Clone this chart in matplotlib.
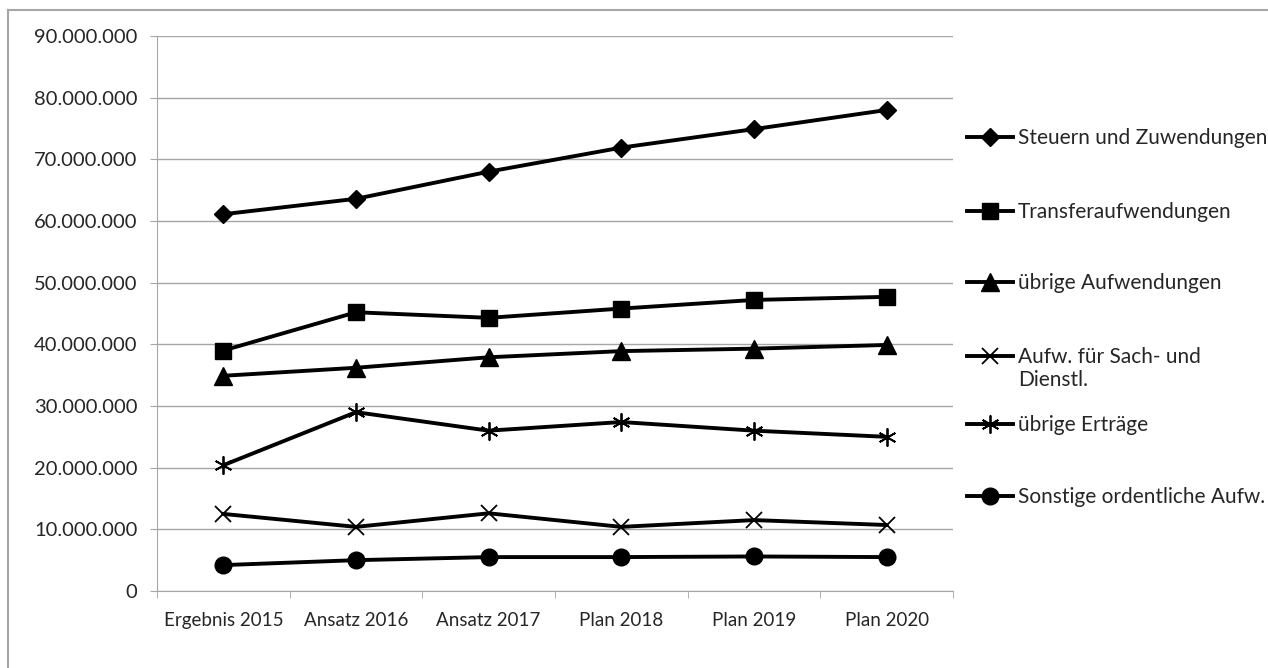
import matplotlib
matplotlib.use('Agg')
import numpy as np
from matplotlib import pyplot as plt
from matplotlib.ticker import FuncFormatter, FixedLocator
from matplotlib.lines import Line2D
from matplotlib.legend_handler import HandlerLine2D

plt.rcParams['font.family'] = ['Lato', 'DejaVu Sans']

years = ['Ergebnis 2015', 'Ansatz 2016', 'Ansatz 2017', 'Plan 2018', 'Plan 2019', 'Plan 2020']

steuern = [61.1e6, 63.6e6, 68.0e6, 71.9e6, 74.9e6, 78.0e6]
transfer = [39.0e6, 45.2e6, 44.3e6, 45.8e6, 47.2e6, 47.7e6]
uebrige_aufw = [34.9e6, 36.2e6, 37.9e6, 38.9e6, 39.3e6, 39.9e6]
sach = [12.5e6, 10.4e6, 12.6e6, 10.4e6, 11.5e6, 10.7e6]
ertraege = [20.4e6, 29.0e6, 26.0e6, 27.4e6, 26.0e6, 25.0e6]
sonstige = [4.2e6, 5.0e6, 5.5e6, 5.5e6, 5.6e6, 5.5e6]

W, H = 1268, 668
fig = plt.figure(figsize=(W / 100, H / 100), dpi=100)
ax = fig.add_axes([157 / W, 1 - 591 / H, (953 - 157) / W, (591 - 36) / H])

x = list(range(len(years)))
lw = 2.8
l1, = ax.plot(x, steuern, color='black', lw=lw, marker='D', ms=9, label='Steuern und Zuwendungen', zorder=3)
l2, = ax.plot(x, transfer, color='black', lw=lw, marker='s', ms=12, label='Transferaufwendungen', zorder=3)
l3, = ax.plot(x, uebrige_aufw, color='black', lw=lw, marker='^', ms=13, label='übrige Aufwendungen', zorder=3)
l4, = ax.plot(x, sach, color='black', lw=lw, marker='x', ms=11.5, mew=1.3, label='Aufw. für Sach- und\nDienstl.', zorder=3)
l5, = ax.plot(x, ertraege, color='black', lw=lw, marker=(6, 2, 0), ms=13, mew=1.3, label='übrige Erträge', zorder=3)
l6, = ax.plot(x, sonstige, color='black', lw=lw, marker='o', ms=12, label='Sonstige ordentliche Aufw.', zorder=3)

ax.set_xlim(-0.5, len(years) - 0.5)
ax.set_ylim(0, 90e6)
ax.set_yticks([i * 10e6 for i in range(10)])
ax.yaxis.set_major_formatter(FuncFormatter(lambda v, p: f'{int(v):,}'.replace(',', '.')))
ax.set_xticks(x)
ax.set_xticklabels(years)
ax.xaxis.set_minor_locator(FixedLocator([i - 0.5 for i in range(len(years) + 1)]))

gray = '#a6a6a6'
txt = '#262626'
ax.grid(axis='y', color=gray, lw=1)
ax.set_axisbelow(True)
for s in ['top', 'right']:
    ax.spines[s].set_visible(False)
for s in ['left', 'bottom']:
    ax.spines[s].set_color(gray)
ax.tick_params(axis='y', length=5, color=gray, pad=9, labelsize=14.5, labelcolor=txt)
ax.tick_params(axis='x', which='major', length=0, pad=15, labelsize=13.5, labelcolor=txt)
ax.tick_params(axis='x', which='minor', length=5, color=gray)


class ShiftedHandler(HandlerLine2D):
    # Linie im Legendeneintrag auf die erste Textzeile schieben
    def __init__(self, dy=0, **kw):
        super().__init__(**kw)
        self.dy = dy

    def create_artists(self, *args, **kwargs):
        arts = super().create_artists(*args, **kwargs)
        for a in arts:
            a.set_ydata(np.asarray(a.get_ydata()) + self.dy)
        return arts


# Legende: ein Eintrag je Reihe, gleichmaessig verteilt wie in Excel
entries = [(l1, 138, 0), (l2, 212, 0), (l3, 283, 0), (l4, 368.5, 9.5), (l5, 425, 0), (l6, 497, 0)]
for line, ypix, dy in entries:
    lg = ax.legend(handles=[line], loc='center left', bbox_to_anchor=(967 / W, 1 - ypix / H),
                   bbox_transform=fig.transFigure, frameon=False, fontsize=15,
                   handlelength=2.2, handletextpad=0.25, borderaxespad=0, borderpad=0,
                   handler_map={line: ShiftedHandler(dy=dy)})
    for t in lg.get_texts():
        t.set_color(txt)
    ax.add_artist(lg)
ax.legend_ = None  # sonst wird der letzte Eintrag doppelt gezeichnet

# Rahmen oben und links
fig.add_artist(Line2D([8 / W, 8 / W], [0, 1 - 10 / H], color=gray, lw=1.5))
fig.add_artist(Line2D([8 / W, 1], [1 - 10 / H, 1 - 10 / H], color=gray, lw=1.5))

fig.savefig('out.png', dpi=100)
